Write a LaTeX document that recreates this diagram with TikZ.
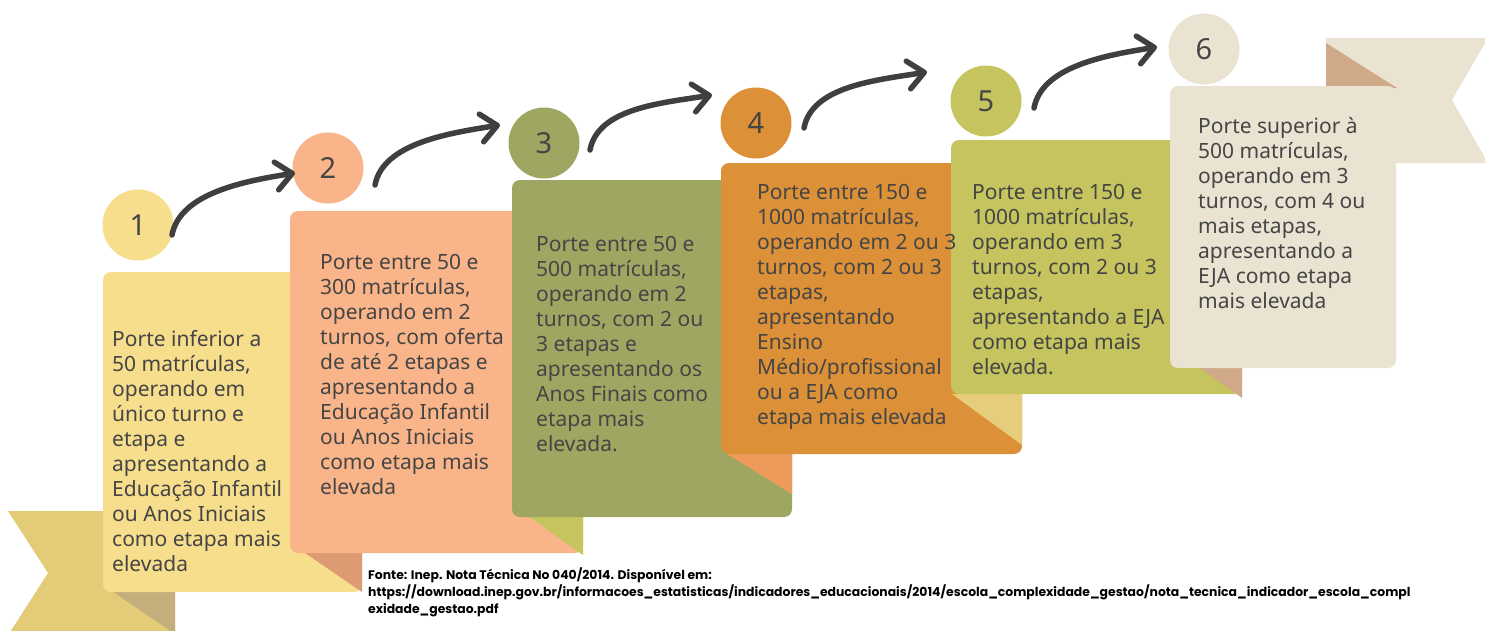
\documentclass[tikz,border=0pt]{standalone}
\usepackage{fontspec}
\setmainfont{Noto Sans}
\newfontfamily\footfont{Poppins}
\usetikzlibrary{arrows.meta,calc}
\definecolor{yelC}{HTML}{F7DE8C}
\definecolor{ribY}{HTML}{E3CB78}
\definecolor{foldY}{HTML}{C4AE7C}
\definecolor{salC}{HTML}{F9B589}
\definecolor{foldS}{HTML}{DD9A73}
\definecolor{oliC}{HTML}{9FA662}
\definecolor{oraC}{HTML}{DC9037}
\definecolor{foldO}{HTML}{EE9A5B}
\definecolor{ygC}{HTML}{C5C45E}
\definecolor{foldL}{HTML}{E5CD7C}
\definecolor{begC}{HTML}{EBE3D2}
\definecolor{tanC}{HTML}{CFA988}
\definecolor{txtC}{HTML}{454545}
\definecolor{arrC}{HTML}{3F3F3F}
\newcommand\cardtxt[1]{\parbox[t]{330pt}{\fontsize{21}{25}\selectfont\raggedright #1}}
\begin{document}
\begin{tikzpicture}[x=1pt,y=-1pt,
  card/.style={rounded corners=8pt},
  num/.style={circle,minimum size=71pt,inner sep=0pt,text=txtC,font=\fontsize{29}{29}\selectfont},
  ctext/.style={anchor=base west,inner sep=0pt,text=txtC},
  arr/.style={line width=5.5pt,draw=arrC,line cap=round,-{Straight Barb[length=16pt,width=28pt,round]}}]
\useasboundingbox (0,0) rectangle (1485,630);
% bottom-left ribbon
\fill[ribY] (8,511) -- (175,511) -- (175,640) -- (5,640) -- (48,573) -- cycle;
\fill[foldY] (103,585) -- (175,585) -- (175,634) -- cycle;
% top-right ribbon
\fill[begC] (1326,38) -- (1488,38) -- (1452,100) -- (1488,163) -- (1326,163) -- cycle;
\fill[tanC] (1326,43) -- (1397,88) -- (1326,88) -- cycle;
% cards
\fill[yelC,card] (103,272) rectangle (362,592);
\fill[foldS] (305,553) -- (362,553) -- (362,592) -- cycle;
\fill[salC,card] (290,211) rectangle (583,553);
\fill[ygC] (528,516) -- (583,516) -- (583,555) -- cycle;
\fill[oliC,card] (512,180) rectangle (792,517);
\fill[foldO] (727,454) -- (792,454) -- (792,494) -- cycle;
\fill[oraC,card] (721,163) rectangle (1022,454);
\fill[foldL] (952,394) -- (1022,394) -- (1022,445) -- cycle;
\fill[ygC,card] (951,140) rectangle (1242,394);
\fill[tanC] (1200,368) -- (1242,368) -- (1242,398) -- cycle;
\fill[begC,card] (1170,86) rectangle (1396,368);
% circles
\node[num,fill=yelC] (c1) at (138,225) {1};
\node[num,fill=salC] (c2) at (328,168) {2};
\node[num,fill=oliC] (c3) at (544,143) {3};
\node[num,fill=oraC] (c4) at (756,123) {4};
\node[num,fill=ygC] (c5) at (986,101) {5};
\node[num,fill=begC] (c6) at (1204,49) {6};
% texts
\node[ctext] (t1) at (112,346) {\cardtxt{Porte inferior a\\50 matrículas,\\operando em\\único turno e\\etapa e\\apresentando a\\Educação Infantil\\ou Anos Iniciais\\como etapa mais\\elevada}};
\node[ctext] (t2) at (320,269) {\cardtxt{Porte entre 50 e\\300 matrículas,\\operando em 2\\turnos, com oferta\\de até 2 etapas e\\apresentando a\\Educação Infantil\\ou Anos Iniciais\\como etapa mais\\elevada}};
\node[ctext] (t3) at (536,251) {\cardtxt{Porte entre 50 e\\500 matrículas,\\operando em 2\\turnos, com 2 ou\\3 etapas e\\apresentando os\\Anos Finais como\\etapa mais\\elevada.}};
\node[ctext] (t4) at (757,199) {\cardtxt{Porte entre 150 e\\1000 matrículas,\\operando em 2 ou 3\\turnos, com 2 ou 3\\etapas,\\apresentando\\Ensino\\Médio/profissional\\ou a EJA como\\etapa mais elevada}};
\node[ctext] (t5) at (972,199) {\cardtxt{Porte entre 150 e\\1000 matrículas,\\operando em 3\\turnos, com 2 ou 3\\etapas,\\apresentando a EJA\\como etapa mais\\elevada.}};
\node[ctext] (t6) at (1198,133) {\cardtxt{Porte superior à\\500 matrículas,\\operando em 3\\turnos, com 4 ou\\mais etapas,\\apresentando a\\EJA como etapa\\mais elevada}};
% footnote
\node[anchor=base west,inner sep=0pt,text=black] (fn) at (368,579) {\parbox[t]{1200pt}{\footfont\bfseries\fontsize{12.4}{17}\selectfont\raggedright Fonte: Inep. Nota Técnica No 040/2014. Disponível em:\\https://download.inep.gov.br/informacoes\_estatisticas/indicadores\_educacionais/2014/escola\_complexidade\_gestao/nota\_tecnica\_indicador\_escola\_compl\\exidade\_gestao.pdf}};
% arrows
\coordinate (s1) at (172,235); \coordinate (e1) at (295,173);
\coordinate (s2) at (375,185); \coordinate (e2) at (500,125);
\coordinate (s3) at (590,150); \coordinate (e3) at (712,95);
\coordinate (s4) at (804,128); \coordinate (e4) at (927,72);
\coordinate (s5) at (1034,108); \coordinate (e5) at (1157,47);
\foreach \i in {1,...,5}{
  \draw[arr] (s\i) .. controls ($(s\i)+(8,-42)$) and ($(e\i)+(-50,8)$) .. (e\i);
}
\end{tikzpicture}
\end{document}
